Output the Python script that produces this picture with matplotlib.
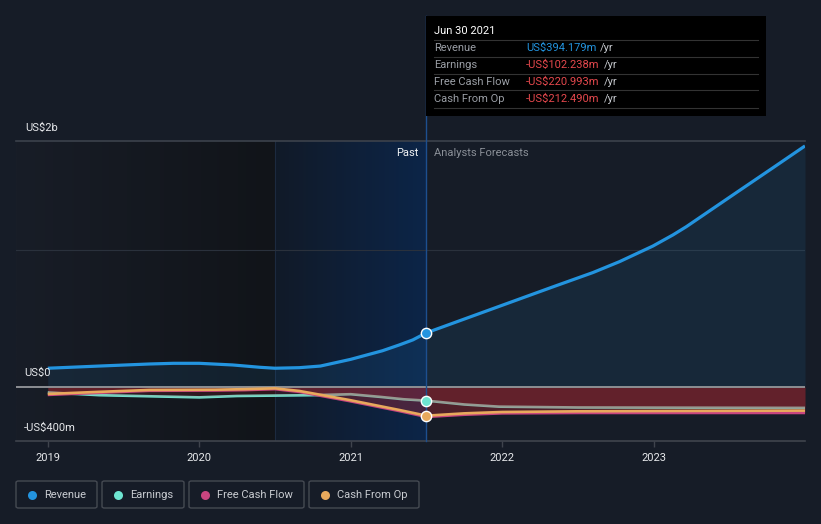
import matplotlib
matplotlib.use("Agg")
import matplotlib.pyplot as plt
import numpy as np
from matplotlib.colors import LinearSegmentedColormap
from matplotlib.patches import Rectangle, FancyBboxPatch

plt.rcParams['font.family'] = ['Roboto', 'DejaVu Sans']

# ---------------- data (US$ millions) ----------------
rev_past_x = [2019.0, 2019.34, 2019.67, 2019.83, 2020.0, 2020.22, 2020.4, 2020.5, 2020.66, 2020.8, 2021.0, 2021.21, 2021.32, 2021.41, 2021.5]
rev_past_y = [135, 151, 166, 171, 171, 159, 142, 135, 139, 151, 200, 263, 305, 342, 394]
rev_fc_x = [2021.5, 2021.962, 2022.335, 2022.6, 2022.776, 2022.996, 2023.128, 2023.216, 2023.546, 2023.787, 2024.0]
rev_fc_y = [394, 580, 730, 835, 915, 1029, 1110, 1170, 1419, 1600, 1761]

earn_past_x = [2019.0, 2019.34, 2019.67, 2020.0, 2020.25, 2020.5, 2020.75, 2021.0, 2021.2, 2021.35, 2021.5]
earn_past_y = [-42, -62, -70, -78, -68, -65, -62, -55, -75, -92, -102]
earn_fc_x = [2021.5, 2021.75, 2021.98, 2022.5, 2023.0, 2024.0]
earn_fc_y = [-102, -130, -146, -152, -153, -155]

cfo_past_x = [2019.0, 2019.33, 2019.67, 2020.11, 2020.3, 2020.5, 2020.66, 2020.99, 2021.32, 2021.5]
cfo_past_y = [-53, -38, -24, -22, -18, -12, -31, -97, -170, -212]
cfo_fc_x = [2021.5, 2021.75, 2022.0, 2022.5, 2023.0, 2024.0]
cfo_fc_y = [-212, -195, -185, -180, -178, -175]

fcf_past_x = [2019.0, 2019.33, 2019.67, 2020.11, 2020.3, 2020.5, 2020.66, 2020.99, 2021.32, 2021.5]
fcf_past_y = [-60, -45, -30, -28, -25, -18, -38, -105, -178, -221]
fcf_fc_x = [2021.5, 2021.75, 2022.0, 2022.5, 2023.0, 2024.0]
fcf_fc_y = [-221, -205, -195, -192, -192, -192]

year_ticks = [2019, 2020, 2021, 2022, 2023]
y_labels = ["US$2b", "US$0", "-US$400m"]

tooltip_date = "Jun 30 2021"
tooltip_rows = ["Revenue", "Earnings", "Free Cash Flow", "Cash From Op"]
tooltip_vals = ["US$394.179m", "-US$102.238m", "-US$220.993m", "-US$212.490m"]

legend_names = ["Revenue", "Earnings", "Free Cash Flow", "Cash From Op"]

# ---------------- style ----------------
BG = "#161c27"
C_REV = "#2394df"
C_EARN = "#6ee5d1"
C_FCF = "#c8457f"
C_CFO = "#e8a95c"
C_NEG = "#e5484d"

W, H = 821, 524
fig = plt.figure(figsize=(W / 100, H / 100), dpi=100, facecolor=BG)

def fx(px):
    return px / W

def fy(py):
    return 1 - py / H

ax_l, ax_r, ax_t, ax_b = 16, 805, 141, 440.7
ax = fig.add_axes([fx(ax_l), fy(ax_b), fx(ax_r - ax_l), fy(ax_t) - fy(ax_b)])
ax.set_facecolor(BG)
XMIN, XMAX = 2018.79, 2024.0
YMIN, YMAX = -395, 1797

# background gradients
cm_dark = LinearSegmentedColormap.from_list("d", ["#181d27", "#111419"])
grad = np.linspace(0, 1, 256).reshape(1, -1)
ax.imshow(grad, extent=[XMIN, 2020.5, YMIN, YMAX], aspect="auto", cmap=cm_dark, zorder=0)
cm_blue = LinearSegmentedColormap.from_list("b", ["#111a28", "#0c2548"])
ax.imshow(grad, extent=[2020.5, 2021.5, YMIN, YMAX], aspect="auto", cmap=cm_blue, zorder=0)
ax.axvline(2020.5, color="#1c2a3f", lw=0.8, zorder=0.5)

# gridlines
ax.axhline(1000, color="#2a313c", lw=0.8, zorder=1)
ax.axhline(YMAX, color="#3c424c", lw=1.2, zorder=1, clip_on=False)

# combine series
rev_x = rev_past_x + rev_fc_x[1:]
rev_y = rev_past_y + rev_fc_y[1:]
earn_x = earn_past_x + earn_fc_x[1:]
earn_y = earn_past_y + earn_fc_y[1:]
cfo_x = cfo_past_x + cfo_fc_x[1:]
cfo_y = cfo_past_y + cfo_fc_y[1:]
fcf_x = fcf_past_x + fcf_fc_x[1:]
fcf_y = fcf_past_y + fcf_fc_y[1:]

# revenue fill
ax.fill_between(rev_x, 0, rev_y, color=C_REV, alpha=0.10, lw=0, zorder=2)

# earnings line below the negative fills
ax.plot(earn_x, earn_y, color=C_EARN, lw=1.9, zorder=3, solid_capstyle="butt")

# negative fills drawn over the earnings line
ax.fill_between(fcf_x, 0, fcf_y, color="#d42a33", alpha=0.30, lw=0, zorder=4)
ax.fill_between(earn_x, 0, earn_y, color="#d42a33", alpha=0.15, lw=0, zorder=4)

ax.axhline(0, color="#8d8f93", lw=1.4, zorder=4.5)

# cash lines on top
ax.plot(fcf_x, fcf_y, color=C_FCF, lw=1.9, zorder=5, solid_capstyle="butt")
ax.plot(cfo_x, cfo_y, color=C_CFO, lw=1.9, zorder=6, solid_capstyle="butt")
ax.plot(rev_x, rev_y, color=C_REV, lw=2.3, zorder=8, solid_capstyle="butt")

# markers at Jun 2021
ax.scatter([rev_past_x[-1]], [rev_past_y[-1]], s=55, color=C_REV, edgecolor="white", linewidth=1.0, zorder=10)
ax.scatter([earn_past_x[-1]], [earn_past_y[-1]], s=55, color=C_EARN, edgecolor="white", linewidth=1.0, zorder=10)
ax.scatter([cfo_past_x[-1]], [cfo_past_y[-1]], s=55, color=C_CFO, edgecolor="white", linewidth=1.0, zorder=10)

# vertical "now" line extending up into tooltip
ax.plot([2021.5, 2021.5], [YMIN, YMAX + (ax_t - 16) / (ax_b - ax_t) * (YMAX - YMIN)],
        color="#1d4f8f", lw=1.0, zorder=9, clip_on=False)

ax.set_xlim(XMIN, XMAX)
ax.set_ylim(YMIN, YMAX)

# axes styling
for s in ["top", "right", "left"]:
    ax.spines[s].set_visible(False)
ax.spines["bottom"].set_color("#3f444d")
ax.spines["bottom"].set_linewidth(1.2)
ax.set_yticks([])
ax.set_xticks(year_ticks)
ax.set_xticklabels([str(y) for y in year_ticks])
ax.tick_params(axis="x", colors="#3f444d", length=4, width=1, labelcolor="#e6e8eb", labelsize=8, pad=5)

# y labels
fig.text(fx(25), fy(128), y_labels[0], color="#e6e8eb", fontsize=8, va="center", ha="left")
fig.text(fx(24), fy(373), y_labels[1], color="#e6e8eb", fontsize=8, va="center", ha="left")
fig.text(fx(24), fy(428), y_labels[2], color="#e6e8eb", fontsize=8, va="center", ha="left")

# Past / forecast labels
fig.text(fx(418), fy(153), "Past", color="#f0f2f4", fontsize=8, va="center", ha="right")
fig.text(fx(434), fy(153), "Analysts Forecasts", color="#8a8f97", fontsize=8, va="center", ha="left")

# tooltip
fig.patches.append(Rectangle((fx(426), fy(116)), fx(766 - 426), fy(16) - fy(116),
                             transform=fig.transFigure, facecolor="#000000", edgecolor="none", zorder=20))
fig.text(fx(434), fy(31), tooltip_date, color="#ffffff", fontsize=8, va="center", ha="left", zorder=21)
row_y = [48, 65, 82, 99]
val_colors = [C_REV, C_NEG, C_NEG, C_NEG]
renderer = fig.canvas.get_renderer()
for i, (lab, val) in enumerate(zip(tooltip_rows, tooltip_vals)):
    ly = row_y[i] - 8.5
    fig.add_artist(plt.Line2D([fx(434), fx(758)], [fy(ly), fy(ly)], color="#333333", lw=0.8,
                              transform=fig.transFigure, zorder=21))
    fig.text(fx(434), fy(row_y[i]), lab, color="#9a9ea5", fontsize=8, va="center", ha="left", zorder=21)
    t = fig.text(fx(526), fy(row_y[i]), val, color=val_colors[i], fontsize=8, va="center", ha="left", zorder=21)
    x1 = t.get_window_extent(renderer).x1
    fig.text((x1 + 4) / W, fy(row_y[i]), "/yr", color="#c6c9ce", fontsize=8, va="center", ha="left", zorder=21)
fig.add_artist(plt.Line2D([fx(434), fx(758)], [fy(108), fy(108)], color="#333333", lw=0.8,
                          transform=fig.transFigure, zorder=21))

# legend boxes
boxes = [(16, 97), (102, 184), (189, 304), (309, 419)]
leg_colors = [C_REV, C_EARN, C_FCF, C_CFO]
for (x0, x1), name, c in zip(boxes, legend_names, leg_colors):
    fig.patches.append(FancyBboxPatch((fx(x0), fy(508)), fx(x1 - x0), fy(481) - fy(508),
                                      boxstyle="round,pad=0,rounding_size=0.003",
                                      transform=fig.transFigure, facecolor="none",
                                      edgecolor="#454a52", lw=1.0, zorder=20))
    fig.add_artist(plt.Line2D([fx(x0 + 16)], [fy(494.5)], marker="o", markersize=6.5, color=c,
                              markeredgewidth=0, transform=fig.transFigure, zorder=21))
    fig.text(fx(x0 + 28), fy(494.5), name, color="#c9ccd1", fontsize=8, va="center", ha="left", zorder=21)

fig.savefig("out.png", dpi=100, facecolor=BG)
